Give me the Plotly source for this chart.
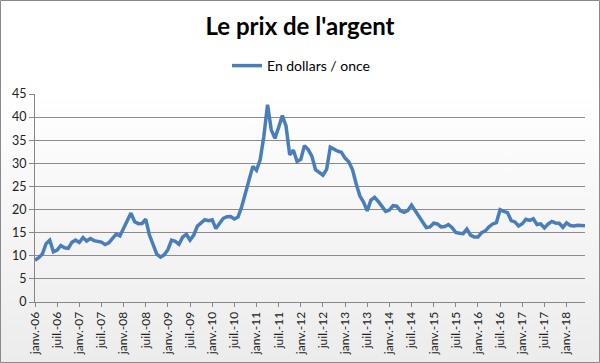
import base64
import plotly.graph_objects as go

month_names = ["janv.", "févr.", "mars", "avr.", "mai", "juin",
               "juil.", "août", "sept.", "oct.", "nov.", "déc."]
years = list(range(2006, 2019))

# Monthly silver price, USD per ounce, Jan 2006 - Jun 2018
prices_2006 = [9.04, 9.58, 10.38, 12.61, 13.38, 10.84, 11.22, 12.23, 11.72, 11.59, 12.91, 13.38]
prices_2007 = [12.88, 13.95, 13.19, 13.73, 13.28, 13.15, 12.95, 12.42, 12.79, 13.75, 14.69, 14.28]
prices_2008 = [16.02, 17.62, 19.24, 17.36, 16.95, 16.98, 17.90, 14.48, 12.48, 10.34, 9.71, 10.20]
prices_2009 = [11.32, 13.39, 13.14, 12.50, 14.01, 14.66, 13.38, 14.49, 16.43, 17.19, 17.80, 17.59]
prices_2010 = [17.80, 15.91, 17.07, 18.10, 18.45, 18.49, 17.95, 18.39, 20.61, 23.44, 26.50, 29.35]
prices_2011 = [28.49, 30.76, 35.87, 42.70, 37.24, 35.39, 37.75, 40.32, 38.07, 31.83, 32.84, 30.39]
prices_2012 = [30.85, 33.83, 32.98, 31.56, 28.62, 28.12, 27.42, 28.68, 33.48, 33.07, 32.63, 32.41]
prices_2013 = [31.13, 30.35, 28.64, 25.59, 22.98, 21.61, 19.71, 22.03, 22.65, 21.75, 20.71, 19.60]
prices_2014 = [19.90, 20.84, 20.72, 19.71, 19.38, 19.82, 20.96, 19.76, 18.46, 17.19, 16.10, 16.24]
prices_2015 = [17.05, 16.89, 16.24, 16.33, 16.76, 16.08, 15.04, 14.86, 14.78, 15.79, 14.47, 14.05]
prices_2016 = [14.04, 15.00, 15.40, 16.26, 16.88, 17.18, 19.98, 19.63, 19.34, 17.63, 17.32, 16.44]
prices_2017 = [16.93, 17.91, 17.64, 18.00, 16.75, 16.90, 16.01, 16.87, 17.43, 17.11, 17.03, 16.17]
prices_2018 = [17.14, 16.55, 16.47, 16.60, 16.48, 16.52]

prices = (prices_2006 + prices_2007 + prices_2008 + prices_2009 + prices_2010 +
          prices_2011 + prices_2012 + prices_2013 + prices_2014 + prices_2015 +
          prices_2016 + prices_2017 + prices_2018)

categories = []
for y in years:
    for m in month_names:
        categories.append(f"{m}-{str(y)[2:]}")
categories = categories[:len(prices)]
tick_labels = categories[::6]

series_name = "En dollars / once"
title_text = "Le prix de l'argent"

W, H = 600, 363
L, R, T, B = 35, 15, 94, 61
pw, ph = W - L - R, H - T - B

fig = go.Figure()
fig.add_trace(go.Scatter(
    x=categories, y=prices, mode="lines", name=series_name,
    line=dict(color="#4a7ebb", width=3.5),
    showlegend=True,
))

svg = ('<svg xmlns="http://www.w3.org/2000/svg" width="600" height="363">'
       '<defs><linearGradient id="g" x1="0" y1="0" x2="0" y2="1">'
       '<stop offset="0" stop-color="#ffffff"/><stop offset="0.25" stop-color="#ffffff"/>'
       '<stop offset="1" stop-color="#ececec"/></linearGradient></defs>'
       '<rect width="600" height="363" fill="url(#g)"/></svg>')
src = "data:image/svg+xml;base64," + base64.b64encode(svg.encode()).decode()

fig.update_layout(
    width=W, height=H,
    margin=dict(l=L, r=R, t=T, b=B, pad=0, autoexpand=False),
    paper_bgcolor="white",
    plot_bgcolor="rgba(0,0,0,0)",
    font=dict(family="Lato, sans-serif", color="#222222"),
    title=dict(text=f"<b>{title_text}</b>", x=0.5, xref="container", xanchor="center",
               y=1 - 27 / H, yanchor="middle",
               font=dict(size=24, family="Lato, sans-serif", color="#000000")),
    legend=dict(orientation="h", x=(301 - L) / pw, xanchor="center", y=1 + (94 - 66) / ph,
                yanchor="middle", bgcolor="rgba(0,0,0,0)",
                font=dict(size=14, family="Lato, sans-serif", color="#000000"),
                itemwidth=30),
    images=[dict(source=src, xref="paper", yref="paper",
                 x=-L / pw, y=(ph + T) / ph, sizex=W / pw, sizey=H / ph,
                 xanchor="left", yanchor="top", sizing="stretch", layer="below")],
    shapes=[dict(type="rect", xref="paper", yref="paper",
                 x0=(0.5 - L) / pw, x1=(W - 0.5 - L) / pw,
                 y0=(T + ph - (H - 0.5)) / ph, y1=(T + ph - 0.5) / ph,
                 line=dict(color="#8a8a8a", width=1), fillcolor="rgba(0,0,0,0)",
                 layer="above")],
)

fig.update_xaxes(
    type="category", range=[0, len(prices) - 1], automargin=False,
    tickmode="array", tickvals=tick_labels, ticktext=tick_labels,
    tickangle=-90, tickfont=dict(size=12, color="#222222"),
    ticks="outside", ticklen=4, tickcolor="#868686",
    showline=True, linecolor="#868686", linewidth=1,
    showgrid=False, zeroline=False,
)
fig.update_yaxes(
    range=[0, 45], tickmode="linear", tick0=0, dtick=5, automargin=False,
    tickfont=dict(size=12.5, color="#222222"),
    ticks="outside", ticklen=5, tickcolor="#868686",
    showline=True, linecolor="#868686", linewidth=1,
    showgrid=True, gridcolor="#8c8c8c", gridwidth=1,
    zeroline=False,
)

fig.write_html("out.html")
